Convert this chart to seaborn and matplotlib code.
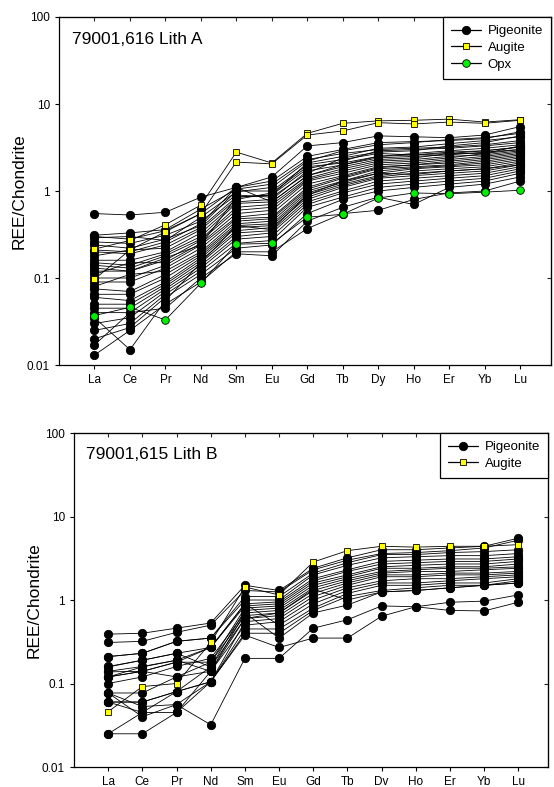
import pandas as pd
import matplotlib
matplotlib.use("Agg")
import matplotlib.pyplot as plt
from matplotlib.lines import Line2D
from matplotlib.ticker import NullLocator
import seaborn as sns

sns.set_style("ticks")
plt.rcParams["font.family"] = ["Liberation Sans", "DejaVu Sans"]
plt.rcParams["text.color"] = "black"
plt.rcParams["axes.labelcolor"] = "black"

# element labels (bottom panel really says "Dv")
elements_a = ["La", "Ce", "Pr", "Nd", "Sm", "Eu", "Gd", "Tb", "Dy", "Ho", "Er", "Yb", "Lu"]
elements_b = ["La", "Ce", "Pr", "Nd", "Sm", "Eu", "Gd", "Tb", "Dv", "Ho", "Er", "Yb", "Lu"]

# 79001,616 Lith A
pig_a = [
    [0.55, 0.53, 0.57, 0.85, 1.10, 1.45, 3.30, 3.60, 4.30, 4.20, 4.10, 4.40, 5.50],
    [0.31, 0.33, 0.36, 0.62, 1.05, 1.20, 2.30, 2.70, 3.00, 3.10, 3.20, 3.40, 3.80],
    [0.29, 0.30, 0.27, 0.50, 0.98, 1.10, 2.20, 2.90, 3.40, 3.60, 3.90, 4.10, 4.60],
    [0.26, 0.25, 0.31, 0.45, 0.90, 0.85, 1.60, 2.40, 2.80, 2.90, 3.30, 3.60, 4.30],
    [0.24, 0.22, 0.28, 0.40, 1.00, 1.00, 2.00, 2.30, 2.70, 2.60, 2.80, 2.90, 3.20],
    [0.20, 0.19, 0.24, 0.38, 0.85, 0.90, 1.80, 2.20, 2.90, 3.00, 3.10, 3.30, 3.60],
    [0.18, 0.21, 0.22, 0.36, 0.80, 0.95, 1.90, 2.10, 2.50, 2.70, 2.90, 3.10, 3.40],
    [0.16, 0.16, 0.20, 0.33, 0.75, 0.80, 1.70, 2.00, 2.40, 2.50, 2.60, 2.80, 3.00],
    [0.15, 0.14, 0.19, 0.30, 0.72, 0.75, 1.50, 1.90, 2.30, 2.40, 2.70, 2.70, 3.30],
    [0.14, 0.13, 0.18, 0.28, 0.65, 0.70, 1.40, 1.80, 2.20, 2.30, 2.50, 2.60, 2.90],
    [0.12, 0.12, 0.16, 0.27, 0.60, 0.65, 1.35, 1.70, 2.10, 2.20, 2.40, 2.70, 3.00],
    [0.11, 0.15, 0.15, 0.25, 0.55, 0.60, 1.30, 1.60, 2.00, 2.10, 2.30, 2.50, 2.80],
    [0.10, 0.10, 0.14, 0.24, 0.50, 0.55, 1.20, 1.50, 1.90, 2.00, 2.20, 2.40, 2.70],
    [0.09, 0.09, 0.13, 0.22, 0.48, 0.50, 1.10, 1.45, 1.85, 2.00, 2.10, 2.30, 2.60],
    [0.08, 0.11, 0.12, 0.20, 0.45, 0.48, 1.05, 1.40, 1.80, 1.90, 2.00, 2.20, 2.50],
    [0.075, 0.07, 0.11, 0.19, 0.42, 0.45, 1.00, 1.30, 1.70, 1.85, 1.95, 2.10, 2.40],
    [0.065, 0.065, 0.10, 0.18, 0.40, 0.42, 0.95, 1.25, 1.60, 1.80, 1.90, 2.00, 2.30],
    [0.06, 0.055, 0.09, 0.17, 0.38, 0.40, 0.90, 1.20, 1.50, 1.70, 1.80, 1.90, 2.20],
    [0.05, 0.05, 0.085, 0.16, 0.35, 0.38, 0.85, 1.15, 1.45, 1.60, 1.70, 1.80, 2.10],
    [0.045, 0.045, 0.08, 0.15, 0.33, 0.35, 0.80, 1.10, 1.40, 1.50, 1.60, 1.70, 2.00],
    [0.04, 0.04, 0.075, 0.14, 0.30, 0.33, 0.75, 1.00, 1.30, 1.40, 1.50, 1.60, 1.90],
    [0.03, 0.035, 0.07, 0.13, 0.28, 0.30, 0.70, 0.95, 1.20, 1.30, 1.40, 1.50, 1.80],
    [0.025, 0.03, 0.065, 0.12, 0.25, 0.27, 0.65, 0.85, 1.10, 1.20, 1.30, 1.40, 1.70],
    [0.02, 0.027, 0.06, 0.11, 0.22, 0.24, 0.55, 0.80, 1.00, 1.10, 1.20, 1.30, 1.60],
    [0.017, 0.04, 0.045, 0.10, 0.19, 0.18, 0.45, 0.65, 0.85, 0.70, 1.10, 1.20, 1.45],
    [0.013, 0.025, 0.05, 0.09, 0.20, 0.20, 0.37, 0.55, 0.60, 0.80, 0.95, 1.00, 1.30],
    [0.035, 0.015, 0.055, 0.15, 0.40, 0.36, 0.90, 1.30, 1.60, 1.55, 1.70, 1.80, 2.00],
    [0.21, 0.20, 0.26, 0.42, 1.10, 1.30, 2.50, 3.00, 3.60, 3.70, 3.80, 4.00, 4.80],
    [0.30, 0.28, 0.35, 0.55, 1.10, 0.75, 1.50, 2.00, 2.50, 2.60, 2.70, 2.90, 3.20],
    [0.13, 0.12, 0.17, 0.24, 0.85, 0.90, 2.10, 2.50, 3.10, 3.20, 3.50, 3.80, 4.20],
]
aug_a = [
    [0.215, 0.27, 0.41, 0.69, 2.80, 2.10, 4.60, 6.00, 6.40, 6.50, 6.70, 6.20, 6.60],
    [0.097, 0.21, 0.34, 0.55, 2.15, 2.05, 4.40, 4.90, 6.10, 5.90, 6.20, 6.00, 6.50],
]
opx_a = [
    [0.037, 0.046, 0.033, 0.087, 0.245, 0.25, 0.50, 0.54, 0.83, 0.95, 0.93, 0.97, 1.02],
]

# 79001,615 Lith B
pig_b = [
    [0.39, 0.40, 0.46, 0.53, 1.50, 1.30, 2.40, 3.20, 4.00, 4.00, 4.20, 4.40, 5.50],
    [0.31, 0.32, 0.41, 0.50, 1.30, 1.25, 2.30, 3.00, 3.60, 3.70, 3.90, 4.20, 5.20],
    [0.21, 0.23, 0.32, 0.35, 1.00, 1.00, 2.00, 2.60, 3.20, 3.30, 3.40, 3.40, 3.60],
    [0.16, 0.19, 0.23, 0.27, 0.90, 0.95, 1.80, 2.30, 2.90, 3.00, 3.10, 3.10, 3.30],
    [0.14, 0.16, 0.19, 0.27, 0.85, 0.90, 1.70, 2.20, 2.70, 2.80, 2.90, 2.90, 3.10],
    [0.12, 0.14, 0.18, 0.18, 0.80, 0.85, 1.60, 2.00, 2.50, 2.60, 2.70, 2.70, 2.90],
    [0.158, 0.19, 0.23, 0.158, 0.75, 0.80, 1.50, 1.90, 2.40, 2.40, 2.50, 2.50, 2.70],
    [0.12, 0.158, 0.19, 0.14, 0.70, 0.75, 1.40, 1.80, 2.20, 2.30, 2.40, 2.40, 2.50],
    [0.077, 0.077, 0.12, 0.18, 0.65, 0.70, 1.30, 1.70, 2.10, 2.20, 2.20, 2.30, 2.40],
    [0.06, 0.06, 0.08, 0.158, 0.60, 0.65, 1.20, 1.60, 2.00, 2.00, 2.10, 2.10, 2.20],
    [0.077, 0.053, 0.056, 0.105, 0.55, 0.60, 1.10, 1.50, 1.90, 1.90, 2.00, 2.00, 2.10],
    [0.06, 0.045, 0.045, 0.14, 0.50, 0.55, 1.00, 1.40, 1.70, 1.80, 1.80, 1.90, 2.00],
    [0.138, 0.14, 0.18, 0.27, 0.90, 0.50, 0.90, 1.30, 1.60, 1.60, 1.70, 1.80, 1.90],
    [0.025, 0.045, 0.08, 0.105, 0.45, 0.45, 0.80, 1.20, 1.50, 1.50, 1.60, 1.60, 1.80],
    [0.025, 0.025, 0.045, 0.105, 0.40, 0.40, 0.75, 1.10, 1.30, 1.40, 1.50, 1.50, 1.60],
    [0.077, 0.04, 0.056, 0.032, 0.20, 0.20, 0.46, 0.58, 0.85, 0.83, 0.94, 0.97, 1.15],
    [0.06, 0.06, 0.08, 0.105, 0.38, 0.27, 0.35, 0.35, 0.64, 0.83, 0.75, 0.74, 0.94],
    [0.21, 0.23, 0.32, 0.35, 1.10, 1.10, 2.10, 2.80, 3.50, 3.50, 3.70, 3.80, 4.00],
    [0.12, 0.14, 0.12, 0.14, 0.60, 0.70, 1.35, 1.00, 1.25, 1.30, 1.40, 1.50, 1.70],
    [0.10, 0.12, 0.16, 0.20, 0.70, 0.35, 0.70, 0.87, 1.25, 1.30, 1.40, 1.50, 1.60],
]
aug_b = [
    [0.046, 0.092, 0.10, 0.31, 1.43, 1.15, 2.85, 3.90, 4.40, 4.30, 4.40, 4.40, 4.60],
]

styles = {
    "Pigeonite": dict(marker="o", markerfacecolor="black", markersize=6),
    "Augite": dict(marker="s", markerfacecolor="#ffff00", markersize=5),
    "Opx": dict(marker="o", markerfacecolor="#00ee00", markersize=5.5),
}


def to_long(rows, mineral):
    recs = []
    for i, row in enumerate(rows):
        for j, v in enumerate(row):
            recs.append({"sample": f"{mineral}{i}", "pos": j, "ree": v})
    return pd.DataFrame(recs)


def draw_panel(ax, groups, labels, title):
    for mineral, rows in groups:
        df = to_long(rows, mineral)
        for _, sub in df.groupby("sample", sort=False):
            sns.lineplot(data=sub, x="pos", y="ree", ax=ax, estimator=None, sort=False,
                         color="black", linewidth=0.6, markeredgecolor="black",
                         markeredgewidth=0.6, **styles[mineral])

    ax.set_yscale("log")
    ax.set_ylim(0.01, 100)
    ax.set_xlim(-1.0, 12.87)
    ax.set_yticks([0.01, 0.1, 1, 10, 100])
    ax.set_yticklabels(["0.01", "0.1", "1", "10", "100"])
    ax.yaxis.set_minor_locator(NullLocator())
    ax.set_xticks(range(len(labels)))
    ax.set_xticklabels(labels)
    ax.tick_params(direction="out", length=3, width=0.8, labelsize=8.5, colors="black")
    ax.set_xlabel("")
    ax.set_ylabel("REE/Chondrite", fontsize=12.5, labelpad=0, color="black")
    for sp in ax.spines.values():
        sp.set_visible(True)
        sp.set_color("black")
        sp.set_linewidth(0.9)

    # inward ticks along top and right
    sx = ax.secondary_xaxis("top")
    sx.set_xticks(range(len(labels)))
    sx.set_xticklabels([])
    sx.tick_params(direction="in", length=3, width=0.8)
    sy = ax.secondary_yaxis("right")
    sy.set_yticks([0.01, 0.1, 1, 10, 100])
    sy.set_yticklabels([])
    sy.yaxis.set_minor_locator(NullLocator())
    sy.tick_params(direction="in", length=3, width=0.8)

    ax.text(0.026, 0.935, title, transform=ax.transAxes, fontsize=12.5,
            va="center", ha="left", color="black")

    handles = [Line2D([], [], color="black", linewidth=0.9, markeredgecolor="black",
                      markeredgewidth=0.6, **styles[m]) for m, _ in groups]
    leg = ax.legend(handles, [m for m, _ in groups], loc="upper right", fontsize=9.5,
                    frameon=True, fancybox=False, framealpha=1, edgecolor="black",
                    borderaxespad=0, handlelength=2.3, handletextpad=0.5,
                    borderpad=0.6, labelspacing=0.35)
    leg.get_frame().set_linewidth(0.9)
    for t in leg.get_texts():
        t.set_color("black")


fig = plt.figure(figsize=(5.54, 7.87), dpi=100)
ax1 = fig.add_axes([0.1065, 0.5362, 0.888, 0.4422])
ax2 = fig.add_axes([0.1336, 0.0254, 0.8556, 0.4244])

draw_panel(ax1, [("Pigeonite", pig_a), ("Augite", aug_a), ("Opx", opx_a)], elements_a, "79001,616 Lith A")
draw_panel(ax2, [("Pigeonite", pig_b), ("Augite", aug_b)], elements_b, "79001,615 Lith B")

fig.savefig("out.png", dpi=100, facecolor="white")
